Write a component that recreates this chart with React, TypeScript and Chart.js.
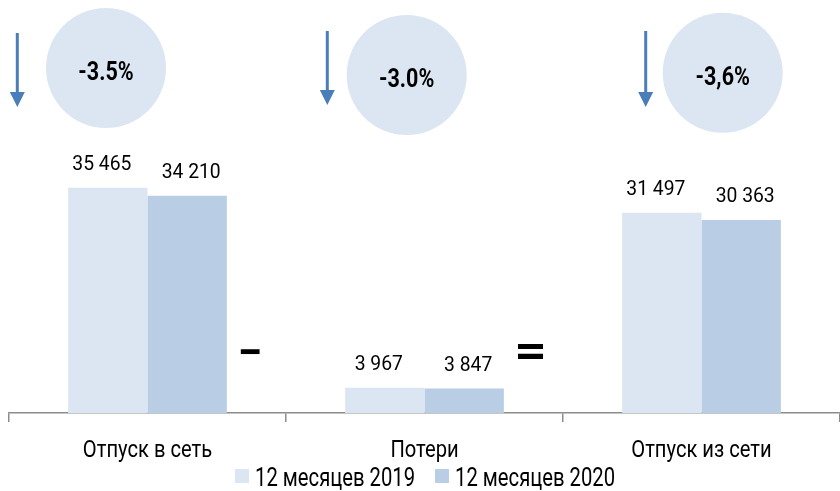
import React, { useEffect, useRef } from "react";
import { Chart, registerables } from "chart.js";

Chart.register(...registerables);

const categories = ["Отпуск в сеть", "Потери", "Отпуск из сети"];
const seriesNames = ["12 месяцев 2019", "12 месяцев 2020"];
const values2019 = [35465, 3967, 31497];
const values2020 = [34210, 3847, 30363];
const changeLabels = ["-3.5%", "-3.0%", "-3,6%"];
const operators = ["-", "="];

const COLORS = ["#dce6f2", "#b9cde5"];
const CIRCLE_COLOR = "#dce6f2";
const ARROW_COLOR = "#4a7ebb";
const FONT = "Roboto, 'Noto Sans', sans-serif";

// decoration placement (relative to category centres)
const CIRCLE_DX = [-41.5, -17.8, 21.2];
const CIRCLE_CY = [68, 75, 72.7];
const ARROW_DX = [-130.2, -97.2, -55.8];
const ARROW_Y = [
  [33, 107],
  [31, 105],
  [31, 107],
];
const LABEL_DX = [-6, 4];

const fmt = (v: number) => String(v).replace(/\B(?=(\d{3})+(?!\d))/g, " ");

function drawText(
  ctx: CanvasRenderingContext2D,
  text: string,
  x: number,
  y: number,
  font: string,
  sx: number,
  align: CanvasTextAlign,
  baseline: CanvasTextBaseline,
  sy = 1
) {
  ctx.save();
  ctx.translate(x, y);
  ctx.scale(sx, sy);
  ctx.font = font;
  ctx.fillStyle = "#000";
  ctx.textAlign = align;
  ctx.textBaseline = baseline;
  ctx.fillText(text, 0, 0);
  ctx.restore();
}

const decorPlugin = {
  id: "decor",
  afterDatasetsDraw(chart: any) {
    const ctx = chart.ctx;
    const xs = chart.scales.x;
    ctx.save();
    // value labels
    chart.data.datasets.forEach((ds: any, di: number) => {
      const meta = chart.getDatasetMeta(di);
      meta.data.forEach((el: any, i: number) => {
        drawText(ctx, fmt(ds.data[i]), el.x + LABEL_DX[di], el.y - 18, `21px ${FONT}`, 0.92, "center", "alphabetic");
      });
    });
    // category labels
    chart.data.labels.forEach((lab: string, i: number) => {
      const cx = xs.getPixelForValue(i);
      drawText(ctx, lab, cx, 457, `24px ${FONT}`, 0.84, "center", "alphabetic");
    });
    // circles & arrows
    categories.forEach((_, i) => {
      const cx = xs.getPixelForValue(i);
      const ccx = cx + CIRCLE_DX[i];
      const ccy = CIRCLE_CY[i];
      ctx.beginPath();
      ctx.arc(ccx, ccy, 60, 0, Math.PI * 2);
      ctx.fillStyle = CIRCLE_COLOR;
      ctx.fill();
      drawText(ctx, changeLabels[i], ccx, ccy + 12, `bold 25px ${FONT}`, 0.86, "center", "alphabetic");

      const ax = cx + ARROW_DX[i];
      const [y0, y1] = ARROW_Y[i];
      const headH = 15;
      ctx.strokeStyle = ARROW_COLOR;
      ctx.lineWidth = 3;
      ctx.beginPath();
      ctx.moveTo(ax, y0);
      ctx.lineTo(ax, y1 - headH);
      ctx.stroke();
      ctx.fillStyle = ARROW_COLOR;
      ctx.beginPath();
      ctx.moveTo(ax - 7.5, y1 - headH);
      ctx.lineTo(ax + 7.5, y1 - headH);
      ctx.lineTo(ax, y1);
      ctx.closePath();
      ctx.fill();
    });
    // operators between categories
    operators.forEach((op, i) => {
      const left = xs.getPixelForValue(i);
      const right = xs.getPixelForValue(i + 1);
      const boundary = (left + right) / 2;
      if (op === "-") {
        drawText(ctx, "\u2212", boundary - 36, 354, `bold 30px 'DejaVu Sans', sans-serif`, 1, "center", "middle", 1.4);
      } else {
        drawText(ctx, "=", boundary - 32.5, 354, `bold 40px 'DejaVu Sans', sans-serif`, 1, "center", "middle", 1.1);
      }
    });
    // legend
    const legendX = [235, 435];
    chart.data.datasets.forEach((ds: any, di: number) => {
      const x = legendX[di];
      ctx.fillStyle = ds.backgroundColor;
      ctx.fillRect(x, 469, 14, 14);
      drawText(ctx, ds.label, x + 20, 486, `25px ${FONT}`, 0.81, "left", "alphabetic");
    });
    ctx.restore();
  },
};

export default function App() {
  const ref = useRef<HTMLCanvasElement | null>(null);
  useEffect(() => {
    if (!ref.current) return;
    const chart = new Chart(ref.current, {
      type: "bar",
      data: {
        labels: categories,
        datasets: [
          { label: seriesNames[0], data: values2019, backgroundColor: COLORS[0] },
          { label: seriesNames[1], data: values2020, backgroundColor: COLORS[1] },
        ],
      },
      options: {
        responsive: false,
        animation: false,
        devicePixelRatio: 1,
        layout: { padding: { left: 9, right: 0, top: 0, bottom: 0 } },
        datasets: { bar: { categoryPercentage: 0.573, barPercentage: 1 } },
        plugins: { legend: { display: false }, tooltip: { enabled: false } },
        scales: {
          x: {
            offset: true,
            grid: {
              display: true,
              drawOnChartArea: false,
              drawTicks: true,
              tickLength: 9,
              color: "#8c8c8c",
              lineWidth: 1.5,
              offset: true,
            },
            border: { display: true, color: "#8c8c8c", width: 1.5 },
            ticks: { display: false },
            afterFit: (s: any) => {
              s.height = 78;
            },
          },
          y: { display: false, min: 0, max: 65000 },
        },
      },
      plugins: [decorPlugin],
    } as any);
    return () => chart.destroy();
  }, []);
  return (
    <div style={{ position: "absolute", left: 0, top: 0, width: 840, height: 491, background: "#fff" }}>
      <canvas ref={ref} width={840} height={491} style={{ display: "block" }} />
    </div>
  );
}
